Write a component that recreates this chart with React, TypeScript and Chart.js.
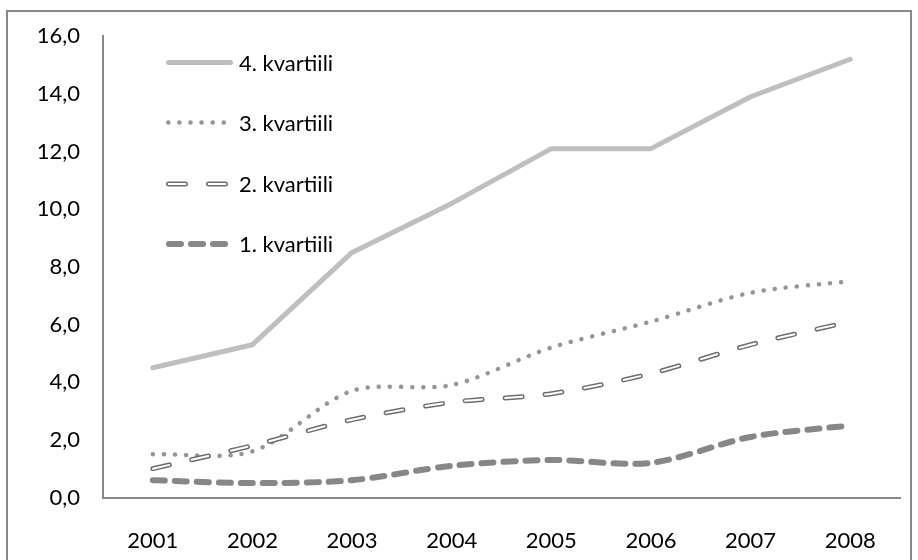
import React, { useEffect, useRef } from 'react';
import { Chart, registerables } from 'chart.js';

Chart.register(...registerables);

// ---- data ----
const years = ['2001', '2002', '2003', '2004', '2005', '2006', '2007', '2008'];
const q4 = [4.5, 5.3, 8.5, 10.2, 12.1, 12.1, 13.9, 15.2];
const q3 = [1.5, 1.6, 3.7, 3.9, 5.2, 6.1, 7.1, 7.5];
const q2 = [1.0, 1.8, 2.7, 3.3, 3.6, 4.3, 5.3, 6.1];
const q1 = [0.6, 0.5, 0.6, 1.1, 1.3, 1.2, 2.1, 2.5];
const seriesNames = ['4. kvartiili', '3. kvartiili', '2. kvartiili', '1. kvartiili'];
const yMin = 0;
const yMax = 16;
const yStep = 2;

// ---- styles ----
const FONT = 'Lato';
const FONT_SIZE = 22;
const AXIS = '#878787';
const S4 = { color: '#BFBFBF', width: 5, dash: [] as number[] };
const S3 = { color: '#969696', width: 4.5, dash: [0.1, 11] };
const S2 = { color: '#6E6E6E', width: 5, dash: [17, 23], inner: '#FFFFFF', innerWidth: 2 };
const S1 = { color: '#878787', width: 6, dash: [12, 10] };

export default function App() {
  const ref = useRef<HTMLCanvasElement>(null);

  useEffect(() => {
    const canvas = ref.current;
    if (!canvas) return;

    const frame = {
      id: 'frame',
      beforeDraw(chart: any) {
        const c = chart.ctx;
        c.save();
        c.fillStyle = '#fff';
        c.fillRect(0, 0, chart.width, chart.height);
        c.strokeStyle = AXIS;
        c.lineWidth = 2;
        c.strokeRect(7, 11, 904, 620);
        c.restore();
      },
    };

    const customLegend = {
      id: 'customLegend',
      afterDraw(chart: any) {
        const c = chart.ctx;
        const x1 = 166;
        const x2 = 233;
        const rows = [62.5, 122.5, 184, 244];
        const styles = [S4, S3, S2, S1];
        c.save();
        styles.forEach((s: any, i) => {
          const y = rows[i];
          c.lineCap = 'round';
          c.setLineDash(s.dash);
          c.lineDashOffset = 0;
          c.strokeStyle = s.color;
          c.lineWidth = s.width;
          c.beginPath();
          c.moveTo(x1 + s.width / 2, y);
          c.lineTo(x2 - s.width / 2, y);
          c.stroke();
          if (s.inner) {
            c.strokeStyle = s.inner;
            c.lineWidth = s.innerWidth;
            c.beginPath();
            c.moveTo(x1 + s.width / 2, y);
            c.lineTo(x2 - s.width / 2, y);
            c.stroke();
          }
          c.setLineDash([]);
          c.fillStyle = '#000';
          c.font = `${FONT_SIZE}px ${FONT}`;
          c.textAlign = 'left';
          c.textBaseline = 'middle';
          c.fillText(seriesNames[i], 239, y + 1);
        });
        c.restore();
      },
    };

    const common = { pointRadius: 0, pointHoverRadius: 0, fill: false, borderCapStyle: 'round' as const, borderJoinStyle: 'round' as const };

    const chart = new Chart(canvas, {
      type: 'line',
      data: {
        labels: years,
        datasets: [
          { ...common, label: seriesNames[0], data: q4, borderColor: S4.color, borderWidth: S4.width, borderDash: S4.dash, tension: 0, order: 5 },
          { ...common, label: seriesNames[1], data: q3, borderColor: S3.color, borderWidth: S3.width, borderDash: S3.dash, tension: 0.3, order: 4 },
          { ...common, label: seriesNames[2], data: q2, borderColor: S2.color, borderWidth: S2.width, borderDash: S2.dash, tension: 0.3, order: 2 },
          { ...common, label: seriesNames[2] + ' inner', data: q2, borderColor: S2.inner, borderWidth: S2.innerWidth, borderDash: S2.dash, tension: 0.3, order: 1 },
          { ...common, label: seriesNames[3], data: q1, borderColor: S1.color, borderWidth: S1.width, borderDash: S1.dash, tension: 0.3, order: 3 },
        ],
      },
      options: {
        responsive: false,
        animation: false,
        events: [],
        layout: { padding: { top: 36, right: 18, bottom: 0, left: 0 } },
        plugins: { legend: { display: false }, tooltip: { enabled: false }, title: { display: false } },
        scales: {
          x: {
            type: 'category',
            offset: true,
            grid: { display: false, drawTicks: false },
            border: { display: true, color: AXIS, width: 2 },
            ticks: {
              color: '#000',
              font: { family: FONT, size: FONT_SIZE },
              padding: 30,
              autoSkip: false,
              maxRotation: 0,
              minRotation: 0,
            },
            afterFit(scale: any) {
              scale.height = 62.5;
            },
          },
          y: {
            min: yMin,
            max: yMax,
            grid: { display: false, drawTicks: false },
            border: { display: true, color: AXIS, width: 2 },
            ticks: {
              stepSize: yStep,
              color: '#000',
              font: { family: FONT, size: FONT_SIZE },
              padding: 23,
              callback: (v: any) => Number(v).toFixed(1).replace('.', ','),
            },
            afterFit(scale: any) {
              scale.width = 103;
            },
          },
        },
      },
      plugins: [frame, customLegend],
    });

    return () => chart.destroy();
  }, []);

  return (
    <div style={{ position: 'absolute', left: 0, top: 0, width: 918, height: 560 }}>
      <canvas ref={ref} width={918} height={560} style={{ display: 'block' }} />
    </div>
  );
}
